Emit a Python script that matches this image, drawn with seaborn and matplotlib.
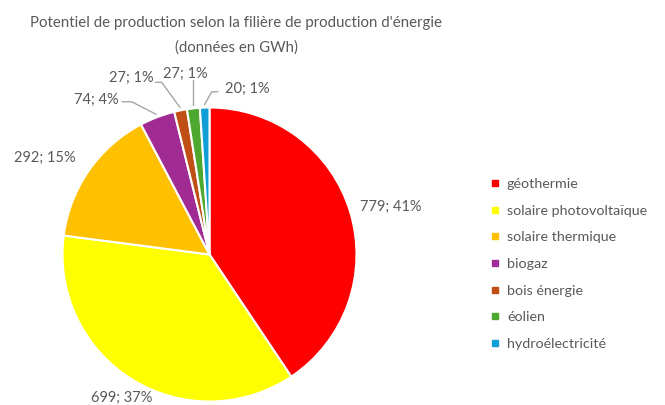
import numpy as np
import matplotlib
matplotlib.use("Agg")
import matplotlib.pyplot as plt
from matplotlib.lines import Line2D
import seaborn as sns

# ---- data ----
categories = ["géothermie", "solaire photovoltaïque", "solaire thermique",
              "biogaz", "bois énergie", "éolien", "hydroélectricité"]
values = [779, 699, 292, 74, 27, 27, 20]
percents = [41, 37, 15, 4, 1, 1, 1]
title_lines = ["Potentiel de production selon la filière de production d'énergie",
               "(données en GWh)"]

# ---- styles / layout ----
colors = ["#FF0000", "#FFFF00", "#FFC000", "#A02B93", "#C04F15", "#4EA72E", "#0F9ED5"]
# label centre positions in pie-radius units
label_pos = [(1.235, 0.323), (-0.595, -0.976), (-1.119, 0.656), (-0.769, 1.051),
             (-0.531, 1.201), (-0.163, 1.228), (0.2585, 1.126)]
# leader line elbows (None = no leader)
leader_pts = [None, None, None,
              [(-0.595, 1.039), (-0.529, 1.039)],
              [(-0.368, 1.171), (-0.325, 1.171)],
              [(-0.12, 1.184)],
              [(0.058, 1.107), (0.0150, 1.107)]]

sns.set_theme(style="white")
plt.rcParams['font.family'] = ['Lato', 'DejaVu Sans']

W, H = 665, 405
fig = plt.figure(figsize=(W / 100, H / 100), dpi=100)
cx, cy, r = 209.5, 254.5, 147.0
ax = fig.add_axes([(cx - r) / W, (H - cy - r) / H, 2 * r / W, 2 * r / H])

wedges, _ = ax.pie(values, colors=colors, startangle=90, counterclock=False,
                   radius=1.0, wedgeprops=dict(edgecolor="white", linewidth=1.5),
                   frame=False)
ax.set_xlim(-1, 1)
ax.set_ylim(-1, 1)
ax.set_aspect("auto")
ax.axis("off")

grey = "#595959"
for i, (w, v, p) in enumerate(zip(wedges, values, percents)):
    lx, ly = label_pos[i]
    ax.text(lx, ly, f"{v}; {p}%", ha="center", va="center", fontsize=10.5,
            color=grey, clip_on=False)
    if leader_pts[i] is not None:
        ang = np.deg2rad((w.theta1 + w.theta2) / 2)
        p0 = (1.02 * np.cos(ang), 1.02 * np.sin(ang))
        pts = leader_pts[i] + [p0]
        xs = [q[0] for q in pts]
        ys = [q[1] for q in pts]
        if len(pts) == 2:
            xs = [p0[0], p0[0]]
        ax.plot(xs, ys, color="#A6A6A6", lw=1.0, clip_on=False)

fig.text(236 / W, 1 - 23 / H, title_lines[0], ha="center", va="center",
         fontsize=10.8, color=grey)
fig.text(236 / W, 1 - 48 / H, title_lines[1], ha="center", va="center",
         fontsize=10.8, color=grey)

handles = [Line2D([0], [0], marker="s", linestyle="none", markersize=5,
                  markerfacecolor=c, markeredgecolor=c) for c in colors]
leg = fig.legend(handles, categories, loc="upper left",
                 bbox_to_anchor=(484 / W, 1 - 171 / H), frameon=False,
                 fontsize=10.3, labelcolor=grey, handlelength=0.6,
                 handletextpad=0.5, labelspacing=1.02, borderpad=0)

fig.savefig("out.png", dpi=100, facecolor="white")
